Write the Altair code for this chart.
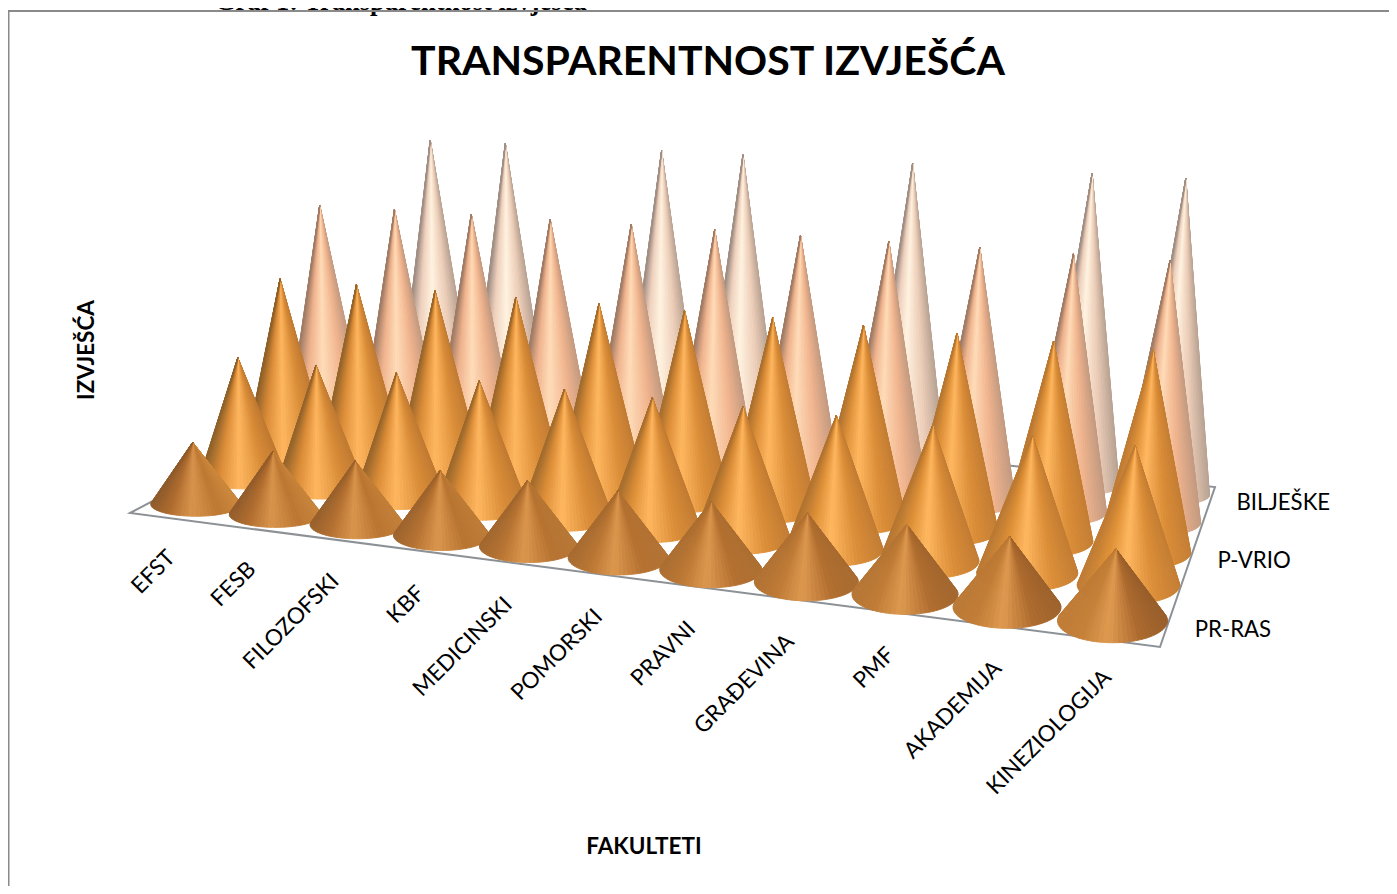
import numpy as np
import pandas as pd
import altair as alt

categories = ["EFST", "FESB", "FILOZOFSKI", "KBF", "MEDICINSKI", "POMORSKI", "PRAVNI",
              "GRAĐEVINA", "PMF", "AKADEMIJA", "KINEZIOLOGIJA"]
series_labels = ["PR-RAS", "", "P-VRIO", "", "BILJEŠKE"]
row_1 = [1, 1, 1, 1, 1, 1, 1, 1, 1, 1, 1]
row_2 = [2, 2, 2, 2, 2, 2, 2, 2, 2, 2, 2]
row_3 = [3, 3, 3, 3, 3, 3, 3, 3, 3, 3, 3]
row_4 = [4, 4, 4, 4, 4, 4, 4, 4, 4, 4, 4]
row_5 = [0, 5, 5, 0, 5, 5, 0, 5, 0, 5, 5]
values = [row_1, row_2, row_3, row_4, row_5]

W, H = 1381, 878
FLOOR_SRC = [(-0.5, -0.5), (10.5, -0.5), (10.5, 4.5), (-0.5, 4.5)]
FLOOR_DST = [(130, 513), (1160, 647), (1215, 487), (350, 397)]
LABEL_NUDGE_X = [13, 11, 9, 7, 4, 1, -2, -3, -5, -4, -4]
LABEL_NUDGE_Y = [2, 3, 4, 5, 5, 5, 5, 5, 5, 5, 0]


def fit_homography(src, dst):
    A, b = [], []
    for (u, v), (x, y) in zip(src, dst):
        A.append([u, v, 1, 0, 0, 0, -u * x, -v * x])
        A.append([0, 0, 0, u, v, 1, -u * y, -v * y])
        b += [x, y]
    return np.append(np.linalg.solve(np.array(A, float), np.array(b, float)), 1).reshape(3, 3)


HOM = fit_homography(FLOOR_SRC, FLOOR_DST)


def floor(c, r):
    p = HOM @ np.array([c, r, 1.0])
    return p[0] / p[2], p[1] / p[2]


def bilinear(c, r, a00, a10, a04, a14):
    s, t = c / 10, r / 4
    return (a00 * (1 - s) + a10 * s) * (1 - t) + (a04 * (1 - s) + a14 * s) * t


# shading across each cone at the left and right ends of a row
POS = [0, .25, .55, .8, 1]
COPPER_L = ["#cc873c", "#bd7832", "#d8944c", "#b06c2e", "#8f5a2a"]
COPPER_R = ["#985e2a", "#ac6a2e", "#e09a50", "#c48038", "#c07c36"]
ORANGE_L = ["#c07a32", "#da8d38", "#ffb65e", "#d98a36", "#8f6129"]
ORANGE_R = ["#c47e34", "#dc8e38", "#ffb861", "#e09238", "#c07c34"]
PEACH = ["#c39a80", "#f0b48e", "#ffdcb8", "#efb28c", "#a07c66"]
PALE = ["#b8a292", "#eccdb8", "#fff3e0", "#eed0bc", "#a08e84"]
SHADES = [(COPPER_L, COPPER_R), (ORANGE_L, ORANGE_R), (ORANGE_L, ORANGE_R), (PEACH, PEACH), (PALE, PALE)]


def rgb(h):
    return [int(h[i:i + 2], 16) for i in (1, 3, 5)]


def shade(r, c, u):
    left, right = SHADES[r]
    s = c / 10
    stops = [[(1 - s) * p + s * q for p, q in zip(rgb(a), rgb(b))] for a, b in zip(left, right)]
    return "#%02x%02x%02x" % tuple(int(round(np.interp(u, POS, [st[k] for st in stops]))) for k in range(3))


FACETS = 40
LEAN_X0, LEAN_K = 680, 1.05e-4
rows = []
key = 0
for r in range(4, -1, -1):
    for c in range(11):
        v = values[r][c]
        if not v:
            continue
        cx, cy = floor(c, r)
        cx += bilinear(c, r, 1, 0, 0, 5)
        a = bilinear(c, r, 45, 55, 40, 40)
        b = bilinear(c, r, 12, 22, 7, 10)
        hgt = v * bilinear(c, r, 62, 72, 54.7, 63.4)
        ax, ay = cx + (cx - LEAN_X0) * LEAN_K * hgt, cy - hgt
        phi = np.arcsin(min(b / hgt, .9))
        th = np.linspace(-phi, np.pi + phi, FACETS + 1)
        for i in range(FACETS):
            p = (cx + a * np.cos(th[i]), cy + b * np.sin(th[i]))
            q = (cx + a * np.cos(th[i + 1]), cy + b * np.sin(th[i + 1]))
            u = 1 - (np.cos((th[i] + th[i + 1]) / 2) + 1) / 2
            col = shade(r, c, min(max(u, 0), 1))
            v0, v1, v2 = sorted([(ax, ay), p, q])
            dx = v2[0] - v0[0]
            mid = v0[1] + (v2[1] - v0[1]) * ((v1[0] - v0[0]) / dx if dx else 0)
            for x_, y_, y2_ in [(v0[0], v0[1], v0[1]), (v1[0], v1[1], mid), (v2[0], v2[1], v2[1])]:
                rows.append(dict(k=f"{key:05d}", x=x_, y=y_, y2=y2_, fill=col))
            key += 1
cones = pd.DataFrame(rows)

X = alt.Scale(domain=[8, 8 + W], range=[0, W])
Y = alt.Scale(domain=[8, 8 + H], range=[0, H])


def xe(f="x"):
    return alt.X(f"{f}:Q", scale=X, axis=None)


def ye(f="y"):
    return alt.Y(f"{f}:Q", scale=Y, axis=None)


corners = [floor(*p) for p in [FLOOR_SRC[3], FLOOR_SRC[0], FLOOR_SRC[1], FLOOR_SRC[2], FLOOR_SRC[3]]]
floor_df = pd.DataFrame({"x": [p[0] for p in corners], "y": [p[1] for p in corners], "i": range(5)})
floor_line = alt.Chart(floor_df).mark_line(color="#8c9196", strokeWidth=2).encode(
    x=xe(), y=ye(), order="i:Q")

cone_layer = alt.Chart(cones).mark_area(orient="vertical", strokeWidth=0.9).encode(
    x=xe(), y=ye(), y2="y2:Q",
    detail="k:N",
    color=alt.Color("fill:N", scale=None),
    stroke=alt.Stroke("fill:N", scale=None),
)

border_df = pd.DataFrame({"x": [8.5, 8.5, 8 + W], "y": [8 + H, 11, 11], "i": range(3)})
border = alt.Chart(border_df).mark_line(color="#8a8a8a", strokeWidth=2).encode(
    x=xe(), y=ye(), order="i:Q")

cat_df = pd.DataFrame({"t": categories, "c": range(11)})
cat_df["x"] = [floor(c, -0.5)[0] + (-11 + 1.8 * c) + LABEL_NUDGE_X[c] for c in cat_df.c]
cat_df["y"] = [floor(c, -0.5)[1] + 34 + LABEL_NUDGE_Y[c] for c in cat_df.c]
cat_labels = alt.Chart(cat_df).mark_text(
    angle=315, align="right", baseline="middle", font="Lato", fontSize=22.5, color="#000000"
).encode(x=xe(), y=ye(), text="t:N")

ser_df = pd.DataFrame({"t": series_labels, "r": range(5)})
ser_df = ser_df[ser_df.t != ""]
ser_df["x"] = [floor(10.5, r)[0] + 28 - 0.5 * r for r in ser_df.r]
ser_df["y"] = [floor(10.5, r)[1] + 2.5 for r in ser_df.r]
ser_labels = alt.Chart(ser_df).mark_text(
    align="left", baseline="middle", font="Lato", fontSize=22.2, color="#000000"
).encode(x=xe(), y=ye(), text="t:N")

texts = pd.DataFrame([
    dict(t="TRANSPARENTNOST IZVJEŠĆA", x=708, y=63, s=41, f="Lato", w="bold", an=0),
    dict(t="FAKULTETI", x=644, y=847, s=22.5, f="Lato", w="bold", an=0),
    dict(t="IZVJEŠĆA", x=87, y=350, s=22.5, f="Lato", w="bold", an=270),
])
main_texts = [
    alt.Chart(texts[texts.t == row.t]).mark_text(
        align="center", baseline="middle", font=row.f, fontSize=row.s, fontWeight=row.w,
        angle=row.an, color="#000000"
    ).encode(x=xe(), y=ye(), text="t:N")
    for row in texts.itertuples()
]
fig_caption = alt.Chart(pd.DataFrame({"t": ["Graf 1: Transparentnost izvješća"], "x": [215], "y": [10]})).mark_text(
    align="left", baseline="alphabetic", font="Liberation Serif", fontSize=26.5, fontWeight="bold", color="#000000"
).encode(x=xe(), y=ye(), text="t:N")

chart = alt.layer(fig_caption, border, floor_line, cone_layer, cat_labels, ser_labels, *main_texts).properties(
    width=W, height=H, padding=0, autosize=alt.AutoSizeParams(type="none"),
    background="white"
).configure_view(stroke=None)

chart.save("out.html", embed_options={"renderer": "svg", "actions": False})
